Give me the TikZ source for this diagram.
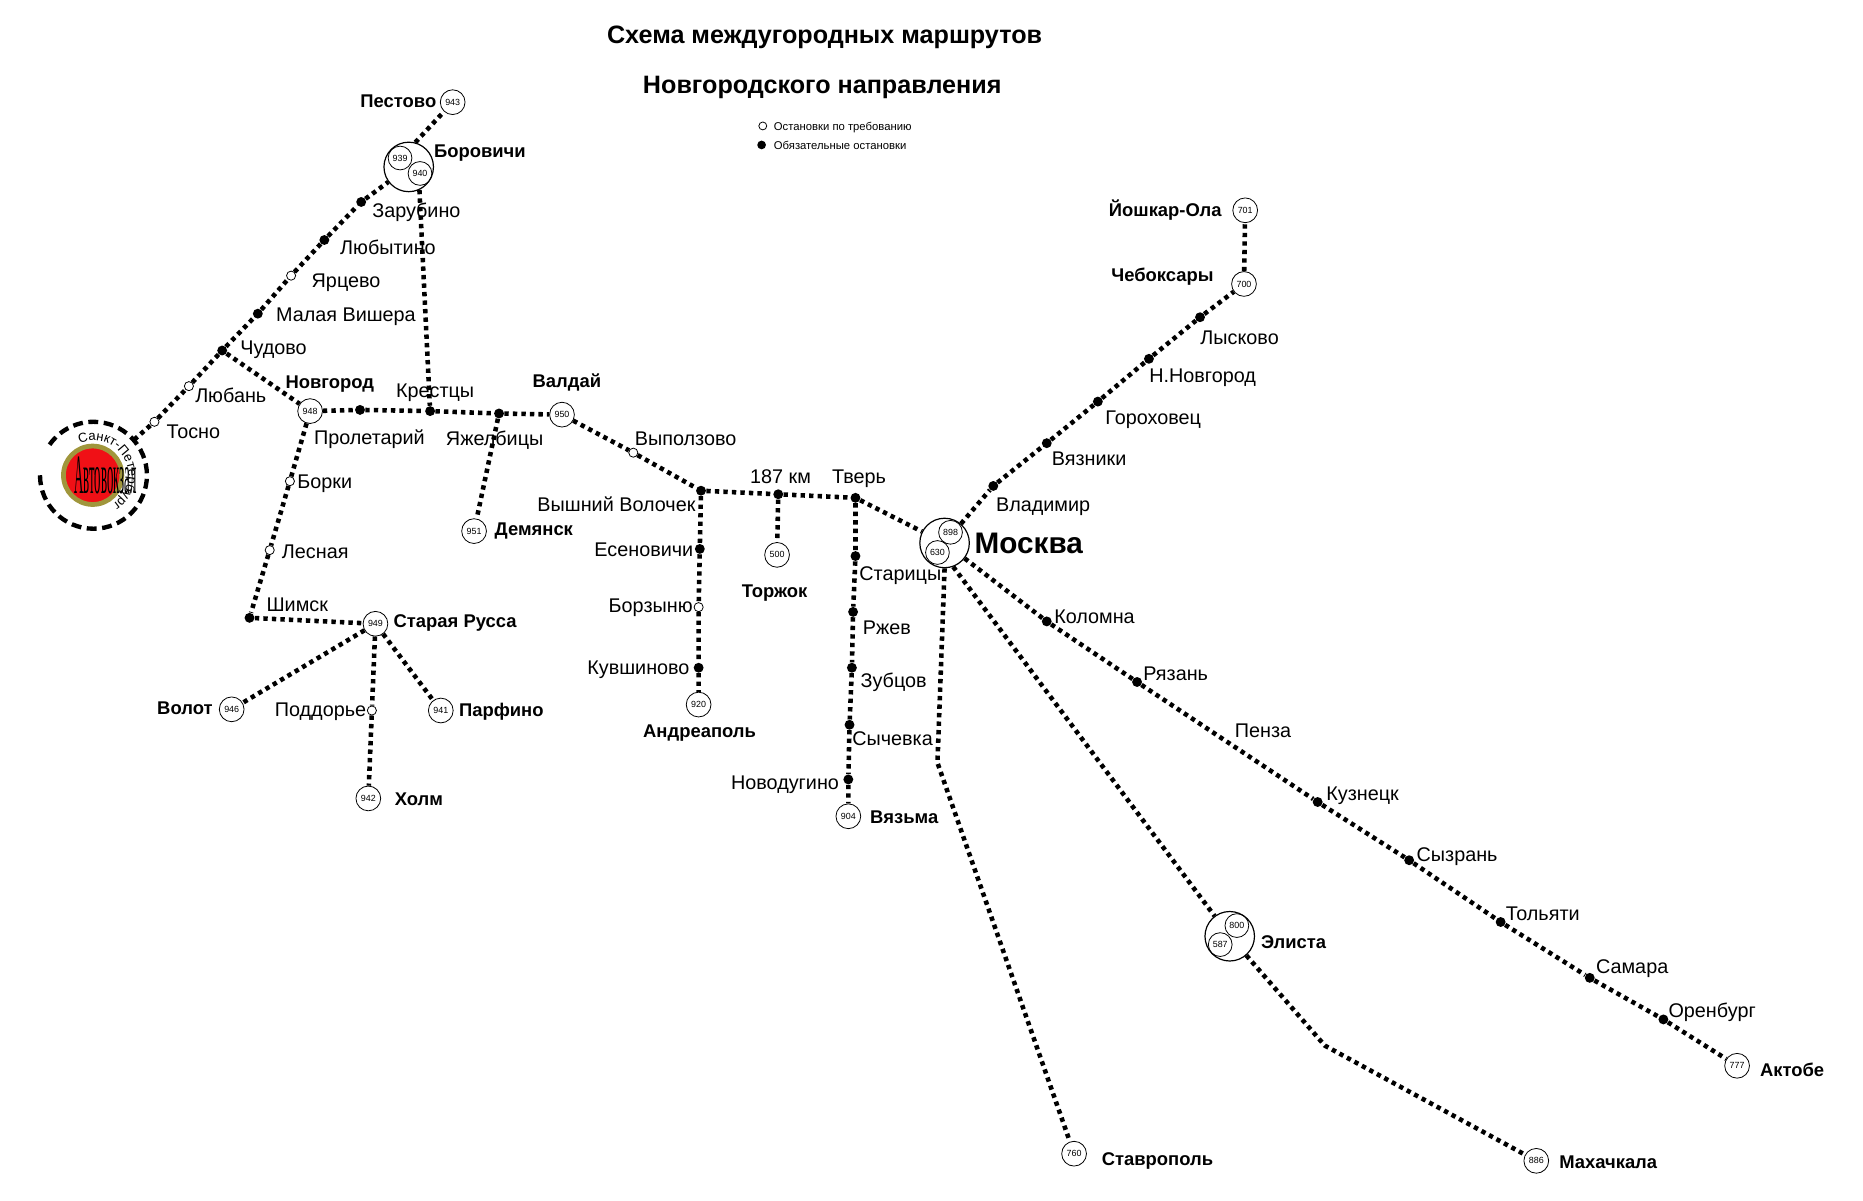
\documentclass[tikz,border=0pt]{standalone}
\usepackage{fontspec}
\setsansfont{Liberation Sans}
\newfontfamily\avtofont{Liberation Serif}
\usepackage{xcolor}
\usetikzlibrary{decorations.text}
\definecolor{busred}{RGB}{240, 16, 22}
\definecolor{busolive}{RGB}{160, 150, 60}

\begin{document}
\begin{tikzpicture}[
    x=0.6pt, y=-0.6pt,
    font=\sffamily\fontsize{10}{12}\selectfont,
    % Styles
    town/.style={circle, draw, thin, fill=white, inner sep=0pt, minimum size=12.5pt, font=\sffamily\fontsize{4.5}{5}\selectfont},
    hub/.style={circle, draw, semithick, inner sep=0pt, minimum size=25pt},
    subtown/.style={circle, draw, thin, inner sep=0pt, minimum size=12pt, font=\sffamily\fontsize{4.5}{5}\selectfont},
    stopfull/.style={circle, fill=black, inner sep=0pt, minimum size=5pt},
    stopopen/.style={circle, draw, thin, fill=white, inner sep=0pt, minimum size=4.6pt},
    place/.style={anchor=west, inner sep=0pt, yshift=-0.8pt},
    bigplace/.style={anchor=west, inner sep=0pt, yshift=-0.6pt, font=\sffamily\bfseries\fontsize{9.3}{12}\selectfont},
    titletext/.style={inner sep=0pt, yshift=-1pt, font=\sffamily\bfseries\fontsize{12.7}{15}\selectfont},
    legendtext/.style={anchor=west, inner sep=0pt, font=\sffamily\fontsize{5.7}{7}\selectfont},
    route/.style={line width=2.3pt, dash pattern=on 2.2pt off 2.1pt},
    ring/.style={line width=2.2pt, dash pattern=on 5pt off 2.8pt}
]
    \useasboundingbox (0,0) rectangle (1568,1010);

    % Title and legend
    \node (title1) [titletext] at (694,30) {Схема междугородных маршрутов};
    \node (title2) [titletext] at (692,72) {Новгородского направления};
    \node (leg1) [stopopen, minimum size=4pt] at (642,106) {};
    \node (leg2) [stopfull, minimum size=4.4pt] at (641,122) {};
    \node (leg1t) [legendtext] at (651,107) {Остановки по требованию};
    \node (leg2t) [legendtext] at (651,122) {Обязательные остановки};

    % Bus station
    \node (sbor) [circle, inner sep=0pt, minimum size=54pt] at (79,400) {};
    \node (avto) [circle, draw=busolive, fill=busred, line width=2.4pt, inner sep=0pt, minimum size=29.5pt] at (78,400) {};
    \draw [ring] (sbor.180) arc[start angle=180, end angle=509, radius=27pt];
    \path [decorate, decoration={text along path, text align=center,
        text={|\sffamily\fontsize{6.6}{8}\selectfont|Санкт-Петербург}}]
        (sbor) ++(115:17.4pt) arc[start angle=115, end angle=-58, radius=17.4pt];
    \node (avtot) [xscale=0.23, transform shape, inner sep=0pt, font=\avtofont\fontsize{28}{30}\selectfont] at (89,400) {Автовокзал};

    % North line
    \node (tosno) [stopopen] at (130,355) {};
    \node (lyuban) [stopopen] at (159,325) {};
    \node (chudovo) [stopfull] at (187,295) {};
    \node (vishera) [stopfull] at (217,264) {};
    \node (yartsevo) [stopopen] at (245,232) {};
    \node (lyubytino) [stopfull] at (273,202) {};
    \node (zarubino) [stopfull] at (304,170) {};
    \node (borovichi) [hub] at (344,140.5) {};
    \node (b939) [subtown] at (336.7,133) {939};
    \node (b940) [subtown] at (353.5,146) {940};
    \node (pestovo) [town] at (381,86) {943};

    % Novgorod to Valdai
    \node (novgorod) [town] at (261,346) {948};
    \node (proletariy) [stopfull] at (303,345) {};
    \node (kresttsy) [stopfull] at (362,346) {};
    \node (yazhelbitsy) [stopfull] at (420,348) {};
    \node (valdai) [town] at (473,349) {950};
    \node (demyansk) [town] at (399,447) {951};

    % Valdai to Moscow
    \node (vypolzovo) [stopopen] at (533,381) {};
    \node (volochek) [stopfull] at (590,413) {};
    \node (km187) [stopfull] at (655,416) {};
    \node (tver) [stopfull] at (720,419) {};
    \node (torzhok) [town] at (654,467) {500};
    \node (moskva) [hub] at (795,457) {};
    \node (m898) [subtown] at (800,448) {898};
    \node (m630) [subtown] at (789,465) {630};

    % Andreapol branch
    \node (esenovichi) [stopfull] at (589,462) {};
    \node (borzynyu) [stopopen] at (588,511) {};
    \node (kuvshinovo) [stopfull] at (588,562) {};
    \node (andreapol) [town] at (588,593) {920};

    % Vyazma branch
    \node (staritsy) [stopfull] at (720,468) {};
    \node (rzhev) [stopfull] at (718,515) {};
    \node (zubtsov) [stopfull] at (717,562) {};
    \node (sychevka) [stopfull] at (715,610) {};
    \node (novodugino) [stopfull] at (714,656) {};
    \node (vyazma) [town] at (714,687) {904};

    % East line
    \node (vladimir) [stopfull] at (836,409) {};
    \node (vyazniki) [stopfull] at (881,373) {};
    \node (gorokhovets) [stopfull] at (924,338) {};
    \node (nnovgorod) [stopfull] at (967,302) {};
    \node (lyskovo) [stopfull] at (1010,267) {};
    \node (cheboksary) [town] at (1047,239) {700};
    \node (yoshkar) [town] at (1048,177) {701};

    % South-east line
    \node (kolomna) [stopfull] at (881,523) {};
    \node (ryazan) [stopfull] at (957,574) {};
    \node (kuznetsk) [stopfull] at (1109,675) {};
    \node (syzran) [stopfull] at (1186,724) {};
    \node (tolyatti) [stopfull] at (1263,776) {};
    \node (samara) [stopfull] at (1338,823) {};
    \node (orenburg) [stopfull] at (1400,858) {};
    \node (aktobe) [town] at (1462,897) {777};

    % South lines
    \coordinate (bend1) at (789,642);
    \coordinate (bend2) at (1115,880);
    \node (stavropol) [town] at (904,971) {760};
    \node (elista) [hub] at (1035,788) {};
    \node (e800) [subtown] at (1041,779) {800};
    \node (e587) [subtown] at (1027,795) {587};
    \node (makhachkala) [town] at (1293,977) {886};

    % Staraya Russa group
    \node (borki) [stopopen] at (244,405) {};
    \node (lesnaya) [stopopen] at (227,463) {};
    \node (shimsk) [stopfull] at (210,520) {};
    \node (russa) [town] at (316,525) {949};
    \node (volot) [town] at (195,597) {946};
    \node (poddorye) [stopopen] at (313,598) {};
    \node (kholm) [town] at (310,672) {942};
    \node (parfino) [town] at (371,598) {941};

    % Routes
    \draw [route] (sbor) -- (tosno) -- (lyuban) -- (chudovo) -- (vishera) -- (yartsevo) -- (lyubytino) -- (zarubino) -- (borovichi);
    \draw [route] (borovichi.75) -- (pestovo);
    \draw [route] (chudovo) -- (novgorod) -- (proletariy) -- (kresttsy) -- (yazhelbitsy) -- (valdai);
    \draw [route] (borovichi.-65) -- (kresttsy);
    \draw [route] (yazhelbitsy) -- (demyansk);
    \draw [route] (valdai) -- (vypolzovo) -- (volochek) -- (km187) -- (tver) -- (moskva);
    \draw [route] (km187) -- (torzhok);
    \draw [route] (volochek) -- (esenovichi) -- (borzynyu) -- (kuvshinovo) -- (andreapol);
    \draw [route] (tver) -- (staritsy) -- (rzhev) -- (zubtsov) -- (sychevka) -- (novodugino) -- (vyazma);
    \draw [route] (moskva) -- (vladimir) -- (vyazniki) -- (gorokhovets) -- (nnovgorod) -- (lyskovo) -- (cheboksary) -- (yoshkar);
    \draw [route] (moskva) -- (kolomna) -- (ryazan) -- (kuznetsk) -- (syzran) -- (tolyatti) -- (samara) -- (orenburg) -- (aktobe);
    \draw [route] (moskva.-90) -- (bend1) -- (stavropol);
    \draw [route] (moskva.-70) -- (elista);
    \draw [route] (elista) -- (bend2) -- (makhachkala);
    \draw [route] (novgorod) -- (borki) -- (lesnaya) -- (shimsk) -- (russa);
    \draw [route] (russa) -- (volot);
    \draw [route] (russa) -- (poddorye) -- (kholm);
    \draw [route] (russa) -- (parfino);

    % Labels, north
    \node (lpestovo) [bigplace] at (303,84) {Пестово};
    \node (lborovichi) [bigplace] at (365,128) {Боровичи};
    \node (lzarubino) [place] at (313,177) {Зарубино};
    \node (llyubytino) [place] at (286,207) {Любытино};
    \node (lyartsevo) [place] at (262,237) {Ярцево};
    \node (lvishera) [place] at (232,265) {Малая Вишера};
    \node (lchudovo) [place] at (202,293) {Чудово};
    \node (llyuban) [place] at (164,331) {Любань};
    \node (ltosno) [place] at (140,362) {Тосно};

    % Labels, centre
    \node (lnovgorod) [bigplace] at (240,322) {Новгород};
    \node (lproletariy) [place] at (264,368) {Пролетарий};
    \node (lkresttsy) [place] at (333,329) {Крестцы};
    \node (lyazhelbitsy) [place] at (375,369) {Яжелбицы};
    \node (lvaldai) [bigplace] at (448,321) {Валдай};
    \node (lvypolzovo) [place] at (534,368) {Выползово};
    \node (ldemyansk) [bigplace] at (416,446) {Демянск};
    \node (lvolochek) [place] at (452,423) {Вышний Волочек};
    \node (lesenovichi) [place] at (500,461) {Есеновичи};
    \node (lborzynyu) [place] at (512,510) {Борзыню};
    \node (lkuvshinovo) [place] at (494,562) {Кувшиново};
    \node (landreapol) [bigplace] at (541,616) {Андреаполь};
    \node (lkm187) [place] at (631,400) {187 км};
    \node (ltver) [place] at (700,402) {Тверь};
    \node (ltorzhok) [bigplace] at (624,498) {Торжок};
    \node (lstaritsy) [place] at (723,483) {Старицы};
    \node (lrzhev) [place] at (726,527) {Ржев};
    \node (lzubtsov) [place] at (724,573) {Зубцов};
    \node (lsychevka) [place] at (717,620) {Сычевка};
    \node (lnovodugino) [place] at (615,659) {Новодугино};
    \node (lvyazma) [bigplace] at (732,687) {Вязьма};
    \node (lmoskva) [bigplace, font=\sffamily\bfseries\fontsize{15}{18}\selectfont] at (820,456) {Москва};

    % Labels, east
    \node (lvladimir) [place] at (838,425) {Владимир};
    \node (lvyazniki) [place] at (885,385) {Вязники};
    \node (lgorokhovets) [place] at (930,352) {Гороховец};
    \node (lnnovgorod) [place] at (967,317) {Н.Новгород};
    \node (llyskovo) [place] at (1010,283) {Лысково};
    \node (lcheboksary) [bigplace] at (935,232) {Чебоксары};
    \node (lyoshkar) [bigplace] at (933,176) {Йошкар-Ола};
    \node (lkolomna) [place] at (887,518) {Коломна};
    \node (lryazan) [place] at (962,566) {Рязань};
    \node (lpenza) [place] at (1039,614) {Пенза};
    \node (lkuznetsk) [place] at (1116,668) {Кузнецк};
    \node (lsyzran) [place] at (1192,720) {Сызрань};
    \node (ltolyatti) [place] at (1267,768) {Тольяти};
    \node (lsamara) [place] at (1343,814) {Самара};
    \node (lorenburg) [place] at (1404,851) {Оренбург};
    \node (laktobe) [bigplace] at (1481,899) {Актобе};
    \node (lstavropol) [bigplace] at (927,976) {Ставрополь};
    \node (lmakhachkala) [bigplace] at (1312,977) {Махачкала};
    \node (lelista) [bigplace] at (1061,792) {Элиста};

    % Labels, south-west
    \node (lborki) [place] at (250,406) {Борки};
    \node (llesnaya) [place] at (237,463) {Лесная};
    \node (lshimsk) [place] at (224,508) {Шимск};
    \node (lrussa) [bigplace] at (331,523) {Старая Русса};
    \node (lvolot) [bigplace] at (132,595) {Волот};
    \node (lpoddorye) [place] at (231,598) {Поддорье};
    \node (lparfino) [bigplace] at (386,598) {Парфино};
    \node (lkholm) [bigplace] at (332,672) {Холм};

\end{tikzpicture}
\end{document}
